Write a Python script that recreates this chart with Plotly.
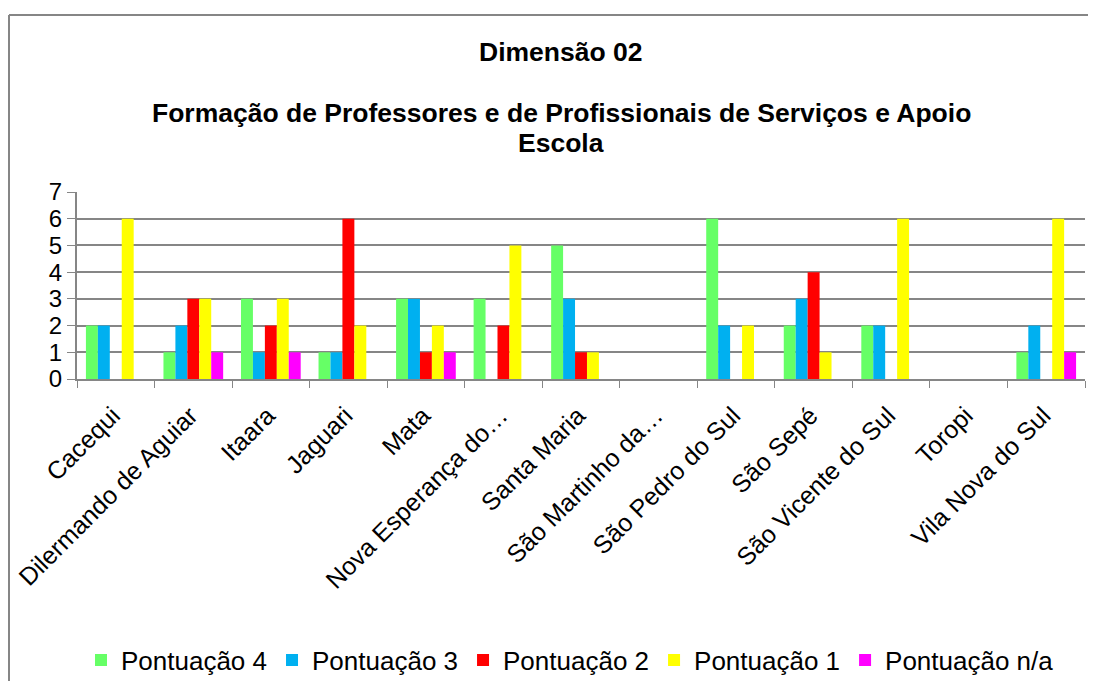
import plotly.graph_objects as go

# municipios (rotulos do eixo x, como aparecem no grafico)
municipios = ["Cacequi", "Dilermando de Aguiar", "Itaara", "Jaguari", "Mata",
              "Nova Esperança do…", "Santa Maria", "São Martinho da…",
              "São Pedro do Sul", "São Sepé", "São Vicente do Sul", "Toropi",
              "Vila Nova do Sul"]

pont4 = [2, 1, 3, 1, 3, 3, 5, 0, 6, 2, 2, 0, 1]
pont3 = [2, 2, 1, 1, 3, 0, 3, 0, 2, 3, 2, 0, 2]
pont2 = [0, 3, 2, 6, 1, 2, 1, 0, 0, 4, 0, 0, 0]
pont1 = [6, 3, 3, 2, 2, 5, 1, 0, 2, 1, 6, 0, 6]
pont_na = [0, 1, 1, 0, 1, 0, 0, 0, 0, 0, 0, 0, 1]

series = [
    ("Pontuação 4", pont4, "#66FF66"),
    ("Pontuação 3", pont3, "#00B0F0"),
    ("Pontuação 2", pont2, "#FF0000"),
    ("Pontuação 1", pont1, "#FFFF00"),
    ("Pontuação n/a", pont_na, "#FF00FF"),
]

FONT = "Liberation Sans, Arial, sans-serif"
GRAY = "#868686"

fig = go.Figure()
for nome, vals, cor in series:
    fig.add_trace(go.Bar(x=municipios, y=vals, name=nome,
                         marker=dict(color=cor, line=dict(width=0))))

# a pagina tem margem de 8px no body: figura menor para nao criar rolagem
OFF = 8
W, H = 1096 - 2 * OFF, 689 - 2 * OFF
ml, mr, mt, mb = 69, 3, 184, 302
pw, ph = W - ml - mr, H - mt - mb

def px_x(xs):
    # coordenada de tela -> paper
    return (xs - OFF - ml) / pw

def px_y(ys):
    return (H - mb - (ys - OFF)) / ph

fig.update_layout(
    width=W, height=H,
    margin=dict(l=ml, r=mr, t=mt, b=mb, autoexpand=False),
    paper_bgcolor="white", plot_bgcolor="white",
    barmode="group", bargap=0.23, bargroupgap=0,
    font=dict(family=FONT, color="black", size=24),
    showlegend=True,
    legend=dict(orientation="h", x=px_x(570), xanchor="center",
                y=px_y(660), yanchor="middle",
                font=dict(size=26), itemwidth=30,
                traceorder="normal"),
    xaxis=dict(type="category", tickangle=-45, showline=True, linecolor=GRAY,
               linewidth=2, ticks="outside", tickson="boundaries", ticklen=7,
               tickcolor=GRAY, showgrid=False, tickfont=dict(size=25),
               ticklabelstandoff=10, ticklabelshift=-3, automargin=False),
    yaxis=dict(range=[0, 7], dtick=1, showline=True, linecolor=GRAY,
               linewidth=2, ticks="outside", ticklen=8, tickcolor=GRAY,
               gridcolor=GRAY, gridwidth=1.5, zeroline=False,
               tickfont=dict(size=24), automargin=False),
)

cx = px_x(561)
titulos = [("<b>Dimensão 02</b>", 52),
           ("<b>Formação de Professores e de Profissionais de Serviços e Apoio</b>", 113),
           ("<b>Escola</b>", 143)]
for txt, ys in titulos:
    fig.add_annotation(text=txt, xref="paper", yref="paper",
                       x=cx, y=px_y(ys), xanchor="center", yanchor="middle",
                       showarrow=False, font=dict(size=26.5, family=FONT))

# moldura do grafico (borda esquerda e superior)
fx, fy = px_x(9), px_y(15)
fig.add_shape(type="line", xref="paper", yref="paper",
              x0=fx, y0=px_y(700), x1=fx, y1=fy, line=dict(color=GRAY, width=2))
fig.add_shape(type="line", xref="paper", yref="paper",
              x0=fx, y0=fy, x1=px_x(1100), y1=fy, line=dict(color=GRAY, width=2))

fig.write_html("out.html")
